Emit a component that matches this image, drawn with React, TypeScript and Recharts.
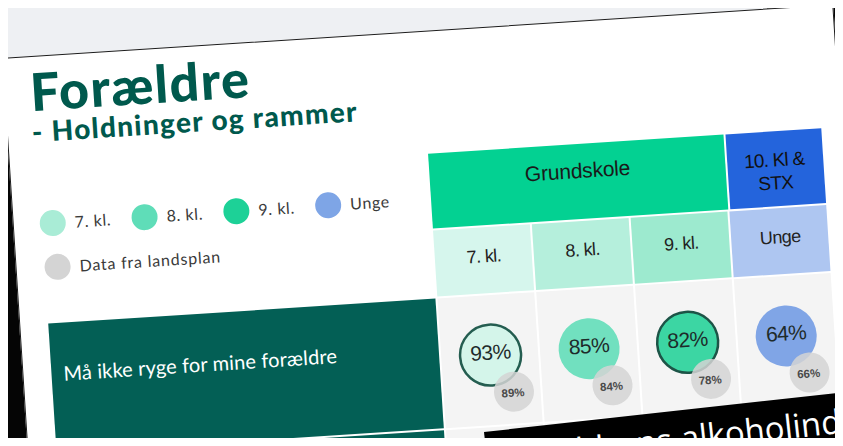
import { Scatter, ScatterChart, XAxis, YAxis } from "recharts";

// data
const klasser = ["7. kl.", "8. kl.", "9. kl.", "Unge"];
const lokalPct = [93, 85, 82, 64];
const landsplanPct = [89, 84, 78, 66];
const spoergsmaal = ["Må ikke ryge for mine forældre"];
const legendLabels = ["7. kl.", "8. kl.", "9. kl.", "Unge"];
const landsplanLabel = "Data fra landsplan";
const gruppeLabels = ["Grundskole", "10. Kl &|STX"];

const rows = klasser.map((k, i) => ({
  klasse: k,
  spm: spoergsmaal[0],
  lokal: lokalPct[i],
  landsplan: landsplanPct[i],
}));

const FILL: Record<string, string> = {
  "7. kl.": "#d4f5ea",
  "8. kl.": "#71e0bf",
  "9. kl.": "#3cd6a3",
  Unge: "#80a5e6",
};
const RING: Record<string, string> = { "7. kl.": "#245d50", "9. kl.": "#1d5447" };
const LEGEND_FILL = ["#a9ecd6", "#5fddb8", "#1dd197", "#7ea5e6"];
const HEAD_FILL = ["#d6f6ed", "#b5efdc", "#9deacf", "#aec6f1"];
const SANS = "'Liberation Sans', Arial, sans-serif";
const ROUND = "Lato, 'Open Sans', sans-serif";

function LokalDot(props: any) {
  const { cx, cy, payload } = props;
  const ring = RING[payload.klasse];
  return (
    <g>
      <circle cx={cx} cy={cy} r={30.5} fill={FILL[payload.klasse]} stroke={ring ?? "none"} strokeWidth={ring ? 2.5 : 0} />
      <text x={cx} y={cy - 3} textAnchor="middle" dominantBaseline="central" fontSize={21}
        fill="#1e2b2a" fontFamily={SANS} letterSpacing={-0.6}>
        {payload.lokal}%
      </text>
    </g>
  );
}

function LandsDot(props: any) {
  const { cx, cy, payload } = props;
  return (
    <g>
      <circle cx={cx + 21} cy={cy + 38} r={20} fill="#d3d3d3" fillOpacity={0.85} />
      <text x={cx + 20} y={cy + 39} textAnchor="middle" dominantBaseline="central" fontSize={11.5}
        fontWeight={700} fill="#4a4a4a" fontFamily={SANS}>
        {payload.landsplan}%
      </text>
    </g>
  );
}

function Slide() {
  const colX = (i: number) => 418 + i * 99;
  return (
    <svg width={833} height={480} style={{ position: "absolute", left: 0, top: 0 }}>
      <text x={25} y={54} fontSize={52} fontWeight={900} fill="#00594d" fontFamily={ROUND} letterSpacing={1.5}>Forældre</text>
      <text x={24} y={85} fontSize={28} fontWeight={900} fill="#00594d" fontFamily={ROUND} letterSpacing={1.3}>- Holdninger og rammer</text>

      {legendLabels.map((l, i) => (
        <g key={l}>
          <circle cx={39 + i * 92} cy={167} r={13} fill={LEGEND_FILL[i]} />
          <text x={61 + i * 92} y={173} fontSize={16} fill="#3a3a3a" fontFamily={ROUND} letterSpacing={0.6}>{l}</text>
        </g>
      ))}
      <circle cx={41} cy={211} r={13} fill="#d4d4d4" />
      <text x={63} y={217} fontSize={16} fill="#3a3a3a" fontFamily={ROUND} letterSpacing={0.8}>{landsplanLabel}</text>

      <rect x={418} y={122} width={296} height={75} fill="#03d192" />
      <text x={566} y={156} textAnchor="middle" fontSize={21} fill="#1a1a1a" fontFamily={SANS} letterSpacing={-0.2}>
        {gruppeLabels[0]}
      </text>
      <rect x={716} y={122} width={96} height={75} fill="#2464dc" />
      {gruppeLabels[1].split("|").map((s, j) => (
        <text key={s} x={763} y={157 + j * 23} textAnchor="middle" fontSize={19} fill="#111" fontFamily={SANS} letterSpacing={-0.8}>
          {s}
        </text>
      ))}

      {klasser.map((k, i) => (
        <g key={k}>
          <rect x={colX(i)} y={199} width={97} height={66} fill={HEAD_FILL[i]} />
          <text x={colX(i) + 49} y={234} textAnchor="middle" fontSize={18} fill="#222" fontFamily={SANS} letterSpacing={-0.6}>{k}</text>
          <rect x={colX(i)} y={267} width={97} height={130} fill="#f4f4f4" />
          <rect x={colX(i)} y={399} width={97} height={90} fill="#f4f4f4" />
        </g>
      ))}

      <rect x={28} y={267} width={388} height={130} fill="#035f55" />
      <rect x={28} y={399} width={388} height={90} fill="#035f55" />
      <text x={40} y={325} fontSize={20} fill="#ffffff" fontFamily={ROUND} letterSpacing={0.15}>{spoergsmaal[0]}</text>
    </svg>
  );
}

export default function App() {
  return (
    <div style={{ position: "relative", width: 843, height: 446, overflow: "hidden", background: "#050505", margin: -8 }}>
      <div style={{ position: "absolute", left: 0, top: 0, width: 767, height: 150, background: "#eef0f3" }} />
      <div style={{ position: "absolute", left: 832, top: -8, width: 20, height: 16, background: "#d81fd0", transform: "rotate(40deg)" }} />
      <div
        style={{
          position: "absolute", left: 2, top: 58, width: 833, height: 480, background: "#ffffff",
          border: "1.5px solid #1c1c1c", boxSizing: "border-box",
          transform: "rotate(-3.7deg)", transformOrigin: "0 0",
        }}
      >
        <Slide />
        <div style={{ position: "absolute", left: 418, top: 267 }}>
          <ScatterChart width={395} height={120} margin={{ top: 0, right: 0, bottom: 0, left: 0 }} style={{ overflow: "visible" }}>
            <XAxis dataKey="klasse" type="category" allowDuplicatedCategory={false} hide />
            <YAxis dataKey="spm" type="category" allowDuplicatedCategory={false} hide />
            <Scatter data={rows} shape={<LokalDot />} isAnimationActive={false} />
            <Scatter data={rows} shape={<LandsDot />} isAnimationActive={false} />
          </ScatterChart>
        </div>
      </div>
      <div style={{ position: "absolute", left: -20, top: 440, width: 60, height: 20, background: "#1b2430", transform: "rotate(9deg)" }} />
      <div
        style={{
          position: "absolute", left: 484, top: 432, width: 420, height: 90, background: "#000",
          transform: "rotate(-6.3deg)", transformOrigin: "0 0", overflow: "hidden",
        }}
      >
        <svg width={420} height={90}>
          <text x={186} y={40} textAnchor="end" fontSize={33} fill="#fff" fontFamily="'Open Sans', sans-serif">forældrens</text>
          <text x={195} y={40} fontSize={33} fill="#fff" fontFamily="'Open Sans', sans-serif">alkoholindtag</text>
        </svg>
      </div>
    </div>
  );
}
